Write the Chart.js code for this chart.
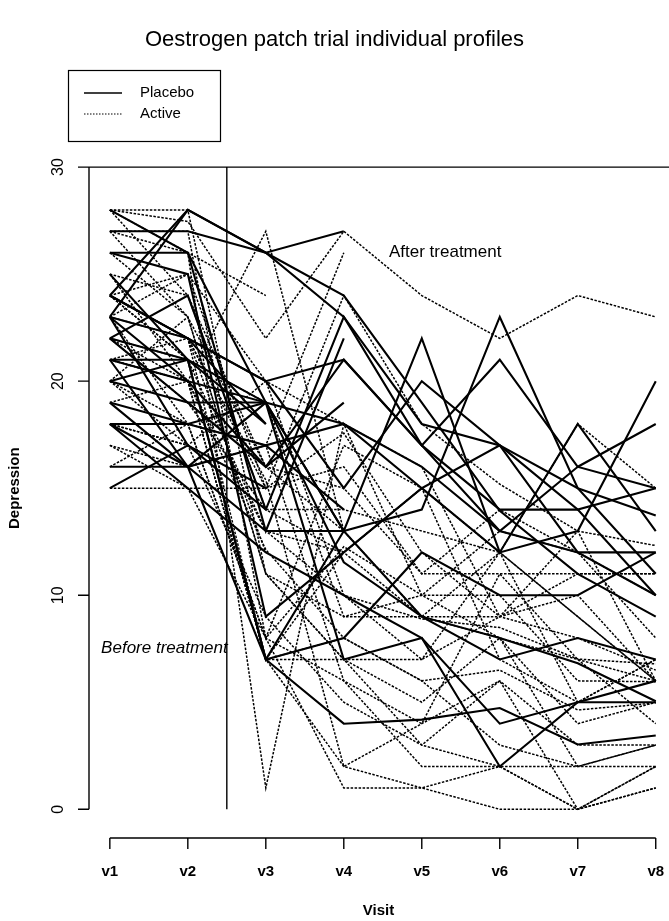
<!DOCTYPE html>
<html>
<head>
<meta charset="utf-8">
<title>Oestrogen patch trial individual profiles</title>
<script src="https://cdn.jsdelivr.net/npm/chart.js@4.4.1/dist/chart.umd.min.js"></script>
<style>
  html, body { margin: 0; padding: 0; background: #fff; overflow: hidden; }
  canvas { display: block; }
</style>
</head>
<body>
<canvas id="chart" width="669" height="921"></canvas>
<script>
const visits = ["v1", "v2", "v3", "v4", "v5", "v6", "v7", "v8"];
const groups = ["Placebo", "Active"];
const yTicks = [0, 10, 20, 30];
const treatmentStart = 2.5;

// one row per woman: two visits before treatment, six after (null = dropped out)
const placebo = [
  [19, 18, 17, 18, 15, 17, 14, 15],
  [27, 27, 26, 23, 18, 17, 12, 10],
  [18, 16, 17, 14, null, null, null, null],
  [23, 17, 14, 23, 17, 13, 12, 12],
  [18, 15, 12, 10, 8, 4, 5, 5],
  [23, 20, 19, 11.54, 9, 8, 6.82, 5.05],
  [21, 16, 13, 13, 9, 7, 8, 7],
  [24, 28, 26, 27, null, null, null, null],
  [23, 28, 26, 24, 19, 13.94, 11, 9],
  [26, 25, 9, 12, 15, 12, 13, 20],
  [22, 24, 14, null, null, null, null, null],
  [19, 16, 19, 13, 14, 23, 15, 11],
  [26, 26, 13, 22, null, null, null, null],
  [25, 21, 7, 13, null, null, null, null],
  [21, 21, 18, null, null, null, null, null],
  [23, 22, 18, null, null, null, null, null],
  [28, 26, 19, 13, 22, 12, 18, 13],
  [22, 19, 19, 7, 8, 2, 5, 6],
  [24, 22, 20, 15, 20, 17, 15, 13.73],
  [16, 16, 7, 8, 12, 10, 10, 12],
  [20, 21, 19, 18, 16, 13, 16, 15],
  [21, 20, 16, 21, 17, 21, 16, 18],
  [15, 17, 15, null, null, null, null, null],
  [24, 22, 20, 21, 17, 14, 14, 10],
  [20, 19, 16, 19, null, null, null, null],
  [22, 21, 7, 4, 4.19, 4.73, 3.03, 3.45],
  [18, 18, 19, null, null, null, null, null]
];

const active = [
  [22, 21, 13, 12, 9, 9, 13, 6],
  [27, 27, 8, 17, 15, 7, 5, 7],
  [17, 15, 8, 12.27, 10, 10, 6, 5.96],
  [28, 24, 14, 14, 13, 12, 18, 15],
  [15, 15, 15, 16, 11, 14, 12, 8],
  [18, 17, 9, 5, 3, 6, 0, 2],
  [21, 20, 7, 7, 7, 12, 9, 6],
  [23, 18, 8, 1, 1, 2, 0, 1],
  [28, 28, 11, 7, 3, 2, 2, 2],
  [24, 21, 7, 8, 6, 6.5, 4.64, 4.97],
  [20, 18, 8, 6, 4, 11, 7, 6],
  [28, 27.46, 22, 27, 24, 22, 24, 23],
  [22, 19, 14, 12, 15, 12, 9, 6],
  [25, 20, 13, 10, 7, 9, 11, 11],
  [17, 16, 17, 26, null, null, null, null],
  [24, 21, 19, 9, 9, 12, 5, 7],
  [26, 23, 11, 7, 5, 8, 2, 3],
  [20, 23, 16, 13, null, null, null, null],
  [25, 24, 16, 15, 11, 11, 11, 11],
  [23, 25, 20, 18, 16, 9, 10, 6],
  [21, 22, 15, 17.57, 12, 9, 8, 6.5],
  [22, 20, 7, 2, 1, 0, 0, 2],
  [19, 20, 12.13, 8, 6, 3, 2, 3],
  [24, 25, 15, 24, 18, 15.19, 13, 12.32],
  [16, 18, 17, 6, 2, 2, 0, 1],
  [28, 26, 1, 18, 10, 13, 12, 10],
  [21, 20, 27, 13, 9, 8, 4, 5],
  [20, 17, 20, 10, 8.89, 8.49, 7.02, 6.79],
  [24, 22, 12, null, null, null, null, null],
  [23, 22, 15.38, 2, 4, 6, 3, 3],
  [27, 23, 11, 9, 10, 8, 7, 4],
  [18, 17, 15, null, null, null, null, null],
  [24, 22, 7, 12, 15, null, null, null],
  [27, 26, 24, null, null, null, null, null]
];

const FONT = "'Liberation Sans', Arial, Helvetica, sans-serif";
const INK = "#000";
const DOT = [2.5, 1.5];

function profile(row, dotted) {
  return {
    data: row.map((v, i) => ({ x: i + 1, y: v })),
    borderColor: INK,
    borderWidth: dotted ? 1.5 : 2.1,
    borderDash: dotted ? DOT : [],
    pointRadius: 0,
    tension: 0,
    fill: false,
    spanGaps: false
  };
}

const datasets = placebo.map(r => profile(r, false)).concat(active.map(r => profile(r, true)));

// R-style axes, reference lines, text labels and legend box
const baseGraphics = {
  id: "baseGraphics",
  afterDraw(chart) {
    const { ctx, chartArea: a, scales: { x, y } } = chart;
    ctx.save();
    ctx.strokeStyle = INK;
    ctx.fillStyle = INK;
    ctx.lineWidth = 1.4;

    // y axis
    const ax = a.left + 1;
    ctx.beginPath();
    ctx.moveTo(ax, y.getPixelForValue(yTicks[0]));
    ctx.lineTo(ax, y.getPixelForValue(yTicks[yTicks.length - 1]));
    yTicks.forEach(v => {
      const p = y.getPixelForValue(v);
      ctx.moveTo(ax, p);
      ctx.lineTo(ax - 11, p);
    });
    ctx.stroke();
    ctx.font = "16px " + FONT;
    ctx.textAlign = "center";
    ctx.textBaseline = "middle";
    yTicks.forEach(v => {
      ctx.save();
      ctx.translate(ax - 30, y.getPixelForValue(v));
      ctx.rotate(-Math.PI / 2);
      ctx.fillText(String(v), 0, 0);
      ctx.restore();
    });

    // x axis
    const ay = a.bottom + 3;
    ctx.beginPath();
    ctx.moveTo(x.getPixelForValue(1), ay);
    ctx.lineTo(x.getPixelForValue(visits.length), ay);
    visits.forEach((_, i) => {
      const p = x.getPixelForValue(i + 1);
      ctx.moveTo(p, ay);
      ctx.lineTo(p, ay + 11);
    });
    ctx.stroke();

    // top line at 30 and the start of treatment
    const top = y.getPixelForValue(30);
    ctx.beginPath();
    ctx.moveTo(ax, top);
    ctx.lineTo(chart.width, top);
    const tx = x.getPixelForValue(treatmentStart);
    ctx.moveTo(tx, y.getPixelForValue(0));
    ctx.lineTo(tx, top);
    ctx.stroke();

    ctx.font = "17px " + FONT;
    ctx.fillText("After treatment", x.getPixelForValue(5.3), y.getPixelForValue(26));
    ctx.font = "italic 17px " + FONT;
    ctx.fillText("Before treatment", x.getPixelForValue(1.7), y.getPixelForValue(7.5));

    // legend
    ctx.lineWidth = 1.2;
    ctx.strokeRect(68.5, 70.5, 152, 71);
    ctx.font = "15px " + FONT;
    ctx.textAlign = "left";
    groups.forEach((g, i) => {
      const ly = 93 + i * 21;
      ctx.beginPath();
      ctx.lineWidth = i === 0 ? 1.5 : 1;
      ctx.setLineDash(i === 0 ? [] : [1.5, 1.5]);
      ctx.moveTo(84, ly);
      ctx.lineTo(122, ly);
      ctx.stroke();
      ctx.setLineDash([]);
      ctx.fillText(g, 140, ly);
    });
    ctx.restore();
  }
};

new Chart(document.getElementById("chart"), {
  type: "line",
  data: { datasets },
  options: {
    responsive: false,
    animation: false,
    devicePixelRatio: 1,
    layout: { padding: 0 },
    plugins: {
      legend: { display: false },
      tooltip: { enabled: false },
      title: {
        display: true,
        text: "Oestrogen patch trial individual profiles",
        color: INK,
        font: { family: FONT, size: 22, weight: "normal", lineHeight: 1.2 },
        padding: { top: 27, bottom: 88 }
      }
    },
    scales: {
      x: {
        type: "linear",
        min: 0.72,
        max: 8.17,
        grid: { display: false, drawTicks: false },
        border: { display: false },
        afterBuildTicks: s => { s.ticks = visits.map((_, i) => ({ value: i + 1 })); },
        afterFit: s => { s.height = 86; s.paddingLeft = 0; s.paddingRight = 0; },
        ticks: {
          callback: v => visits[v - 1],
          color: INK,
          font: { family: FONT, size: 15, weight: "bold" },
          padding: 28,
          maxRotation: 0,
          autoSkip: false
        },
        title: {
          display: true,
          text: "Visit",
          color: INK,
          font: { family: FONT, size: 15, weight: "bold" },
          padding: { top: 0, bottom: 1 }
        }
      },
      y: {
        type: "linear",
        min: -1.2,
        max: 31.2,
        grid: { display: false, drawTicks: false },
        border: { display: false },
        afterBuildTicks: s => { s.ticks = yTicks.map(v => ({ value: v })); },
        afterFit: s => { s.width = 88; s.paddingTop = 0; s.paddingBottom = 0; },
        ticks: { display: false },
        title: {
          display: true,
          text: "Depression",
          color: INK,
          font: { family: FONT, size: 15, weight: "bold" },
          padding: { top: 6, bottom: 0 }
        }
      }
    }
  },
  plugins: [baseGraphics]
});
</script>
</body>
</html>
